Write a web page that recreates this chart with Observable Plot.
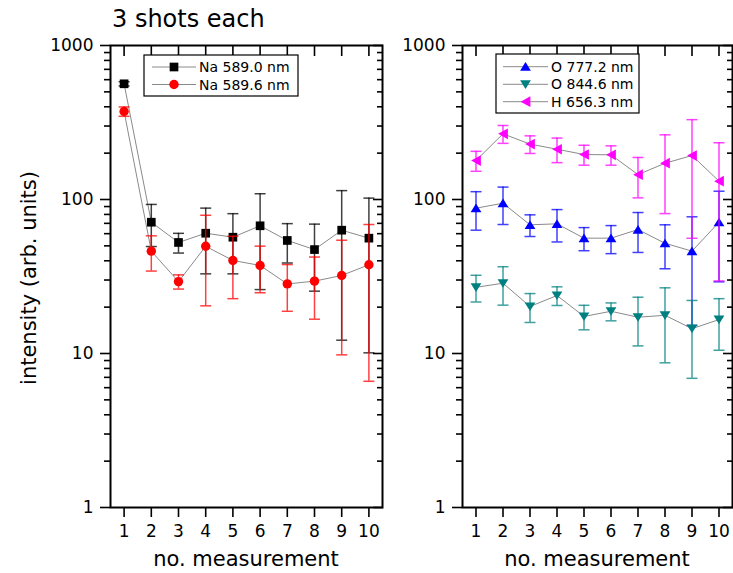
<!DOCTYPE html>
<html><head><meta charset="utf-8">
<script src="https://cdn.jsdelivr.net/npm/d3@7"></script>
<script src="https://cdn.jsdelivr.net/npm/@observablehq/plot@0.6"></script>
<style>
body{margin:0;background:#fff;}
#wrap{position:relative;width:733px;height:573px;overflow:hidden;font-family:"DejaVu Sans",sans-serif;background:#fff;}
#wrap > svg{position:absolute;top:0;}
</style></head><body><div id="wrap"></div>
<script>
// ---- data ----
const measurement = [1, 2, 3, 4, 5, 6, 7, 8, 9, 10];
const na5890 = [564, 71.2, 52.6, 60.4, 56.9, 67.5, 54.2, 47.3, 63.2, 56.1];
const na5890Err = [18, 21.7, 7.7, 27.5, 24, 41.5, 15.5, 21.9, 51, 46];
const na5896 = [373, 46.2, 29.3, 49.7, 40.2, 37.3, 28.3, 29.5, 32.1, 37.7];
const na5896Err = [26, 11.9, 3.1, 29.3, 17.5, 12.5, 9.5, 12.8, 22.3, 31.1];
const o7772 = [87.8, 94.6, 68.5, 69.5, 56.1, 56.1, 63.8, 52, 46.2, 71.2];
const o7772Err = [24.6, 25.8, 11, 16.5, 9.6, 11.6, 18.5, 16.5, 31, 42];
const o8446 = [26.9, 28.6, 20.2, 23.8, 17.4, 18.8, 17.2, 17.7, 14.5, 16.6];
const o8446Err = [5.3, 8, 4.3, 3.3, 3.15, 2.5, 6, 9, 7.6, 6.1];
const h6563 = [179, 267, 229, 212, 196, 195, 145, 172, 193, 131.6];
const h6563Err = [26.5, 35.5, 30, 38.5, 29, 28, 42.5, 91, 137, 102];
const yMajor = [1, 10, 100, 1000];
const yMinor = [2, 3, 4, 5, 6, 7, 8, 9, 20, 30, 40, 50, 60, 70, 80, 90, 200, 300, 400, 500, 600, 700, 800, 900];
const titleText = "3 shots each";
const yLabel = "intensity (arb. units)";
const xLabel = "no. measurement";

// ---- symbols ----
const rr = (size) => Math.sqrt(size / Math.PI);
const symUp = {draw(c, s){const r = rr(s); c.moveTo(-1.06*r, 0.8*r); c.lineTo(1.06*r, 0.8*r); c.lineTo(0, -0.9*r); c.closePath();}};
const symDown = {draw(c, s){const r = rr(s); c.moveTo(-1.06*r, -0.8*r); c.lineTo(1.06*r, -0.8*r); c.lineTo(0, 0.9*r); c.closePath();}};
const symLeft = {draw(c, s){const r = rr(s); c.moveTo(-0.95*r, 0); c.lineTo(0.95*r, -1.05*r); c.lineTo(0.95*r, 1.05*r); c.closePath();}};
const symCap = {draw(c, s){const r = rr(s); c.moveTo(-r, 0); c.lineTo(r, 0);}};

const leftSeries = [
  {name: "Na 589.0 nm", values: na5890, errors: na5890Err, color: "#000000", symbol: d3.symbolSquare, r: 4.9},
  {name: "Na 589.6 nm", values: na5896, errors: na5896Err, color: "#ff0000", symbol: d3.symbolCircle, r: 4.7}
];
const rightSeries = [
  {name: "O 777.2 nm", values: o7772, errors: o7772Err, color: "#0000ff", symbol: symUp, r: 5.1},
  {name: "O 844.6 nm", values: o8446, errors: o8446Err, color: "#008080", symbol: symDown, r: 5.1},
  {name: "H 656.3 nm", values: h6563, errors: h6563Err, color: "#ff00ff", symbol: symLeft, r: 5.1}
];

function panel(series, {width, marginLeft, marginRight}) {
  const marks = [];
  const tw = 1.6;
  marks.push(
    Plot.axisY(yMinor, {anchor: "left", tickSize: 6, tickFormat: () => "", label: null, strokeWidth: tw}),
    Plot.axisY(yMinor, {anchor: "right", tickSize: -6, tickFormat: () => "", label: null, strokeWidth: tw}),
    Plot.axisY(yMajor, {anchor: "right", tickSize: -10, tickFormat: () => "", label: null, strokeWidth: tw}),
    Plot.axisY(yMajor, {anchor: "left", tickSize: 10, tickPadding: 7, tickFormat: d => String(d), fontSize: 17, label: null, strokeWidth: tw}),
    Plot.axisX(measurement, {anchor: "top", tickSize: -10, tickFormat: () => "", label: null, strokeWidth: tw}),
    Plot.axisX(measurement, {anchor: "bottom", tickSize: 10, tickPadding: 7, tickFormat: d => String(d), fontSize: 17, label: null, strokeWidth: tw})
  );
  for (const s of series) {
    const data = measurement.map((x, i) => ({x, v: s.values[i], e: s.errors[i]}));
    marks.push(Plot.line(data, {x: "x", y: "v", stroke: "#8a8a8a", strokeWidth: 1}));
    marks.push(Plot.ruleX(data, {x: "x", y1: d => d.v - d.e, y2: d => d.v + d.e, stroke: s.color, strokeOpacity: 0.75, strokeWidth: 1.5}));
    marks.push(Plot.dot(data, {x: "x", y: d => d.v + d.e, symbol: symCap, r: 5.5, stroke: s.color, strokeOpacity: 0.75, strokeWidth: 1.5, fill: "none"}));
    marks.push(Plot.dot(data, {x: "x", y: d => d.v - d.e, symbol: symCap, r: 5.5, stroke: s.color, strokeOpacity: 0.75, strokeWidth: 1.5, fill: "none"}));
    marks.push(Plot.dot(data, {x: "x", y: "v", symbol: s.symbol, r: s.r, fill: s.color, stroke: "none"}));
  }
  marks.push(Plot.frame({stroke: "#000", strokeWidth: 2}));
  return Plot.plot({
    width, height: 573, marginLeft, marginRight, marginTop: 45, marginBottom: 66,
    x: {domain: [0.5, 10.5]},
    y: {type: "log", domain: [1, 1000]},
    style: {fontFamily: "DejaVu Sans", fontSize: "17px", color: "#000", background: "transparent", overflow: "visible"},
    marks
  });
}

const wrap = document.getElementById("wrap");
const left = panel(leftSeries, {width: 390, marginLeft: 110, marginRight: 8});
left.style.left = "0px";
wrap.appendChild(left);
const right = panel(rightSeries, {width: 343, marginLeft: 72, marginRight: 1});
right.style.left = "390px";
wrap.appendChild(right);

// ---- overlay: title, axis labels, legends ----
const ov = d3.select(wrap).append("svg").attr("width", 733).attr("height", 573)
  .style("left", "0px").attr("font-family", "DejaVu Sans").attr("fill", "#000");
ov.append("text").attr("x", 112).attr("y", 27).attr("font-size", 24).text(titleText);
ov.append("text").attr("transform", "translate(36,278) rotate(-90)").attr("text-anchor", "middle").attr("font-size", 21).text(yLabel);
ov.append("text").attr("x", 246).attr("y", 566).attr("text-anchor", "middle").attr("font-size", 21).text(xLabel);
ov.append("text").attr("x", 597).attr("y", 566).attr("text-anchor", "middle").attr("font-size", 21).text(xLabel);

function legend(series, box, rows, lineX) {
  const g = ov.append("g");
  g.append("rect").attr("x", box[0]).attr("y", box[1]).attr("width", box[2]).attr("height", box[3])
    .attr("fill", "#fff").attr("stroke", "#000").attr("stroke-width", 1.2);
  series.forEach((s, i) => {
    const y = rows[i];
    g.append("line").attr("x1", lineX[0]).attr("x2", lineX[1]).attr("y1", y).attr("y2", y).attr("stroke", "#8a8a8a").attr("stroke-width", 1);
    g.append("path").attr("transform", `translate(${(lineX[0] + lineX[1]) / 2},${y})`)
      .attr("d", d3.symbol(s.symbol, Math.PI * s.r * s.r)()).attr("fill", s.color);
    g.append("text").attr("x", lineX[1] + 3).attr("y", y + 5).attr("font-size", 14).text(s.name);
  });
}
legend(leftSeries, [144, 55, 154, 41], [67, 84.5], [152, 196]);
legend(rightSeries, [496, 54, 143, 59], [66.7, 84.3, 101.7], [503, 548]);
</script></body></html>
